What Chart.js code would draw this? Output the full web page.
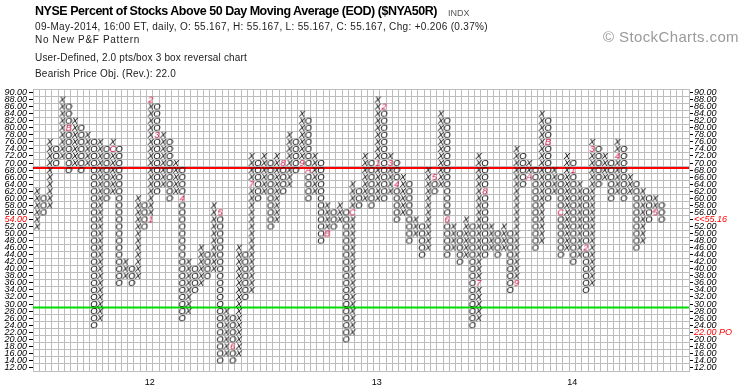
<!DOCTYPE html>
<html>
<head>
<meta charset="utf-8">
<script src="https://cdn.jsdelivr.net/npm/chart.js@4.4.1/dist/chart.umd.min.js"></script>
<style>
  body { margin: 0; background: #fff; font-family: "Liberation Sans", Arial, sans-serif; }
  #wrap { position: relative; width: 745px; height: 391px; overflow: hidden; }
  #chart { position: absolute; left: 0; top: 0; }
  .t { position: absolute; white-space: nowrap; color: #222; font-size: 10px; line-height: 10px; }
</style>
</head>
<body>
<div id="wrap">
  <canvas id="chart" width="745" height="391"></canvas>
  <div class="t" id="title" style="left:35px;top:5px;font-size:12.5px;line-height:12.5px;font-weight:bold;color:#000">NYSE Percent of Stocks Above 50 Day Moving Average (EOD) ($NYA50R)</div>
  <div class="t" id="indx" style="left:448px;top:9px;font-size:9px;line-height:9px;color:#555">INDX</div>
  <div class="t" id="l2" style="left:35px;top:22px">09-May-2014, 16:00 ET, daily, O: 55.167, H: 55.167, L: 55.167, C: 55.167, Chg: +0.206 (0.37%)</div>
  <div class="t" id="l3" style="left:35px;top:35px">No New P&amp;F Pattern</div>
  <div class="t" id="l4" style="left:35px;top:53px">User-Defined, 2.0 pts/box 3 box reversal chart</div>
  <div class="t" id="l5" style="left:35px;top:69px">Bearish Price Obj. (Rev.): 22.0</div>
  <div class="t" id="logo" style="left:603px;top:29px;font-size:15px;line-height:15px;color:#9a9a9a">© StockCharts.com</div>
</div>
<script>
// P&F columns, 2 pts/box, first column is X and they alternate X/O
var boxSize = 2;
var colLow  = [52,56,58,70,72,68,70,68,70,24, 26,60,62,36,38,36,38,52,54,62,
               64,60,62,26,28,34,36,38,40,14, 16,14,16,32,34,60,62,52,54,62,
               64,68,70,60,62,48,50,52,54,20, 22,58,60,58,60,60,62,54,56,48,
               50,44,46,62,64,44,46,42,44,24, 26,44,46,44,46,34,36,64,66,46,
               48,60,62,44,46,42,44,34,36,64, 66,60,62,60,62,46,48,54,56,54];
var colHigh = [62,60,76,74,88,86,82,80,78,76, 76,74,76,74,42,40,60,58,88,86,
               78,76,70,68,42,40,46,44,58,56, 28,26,46,44,72,70,72,70,72,70,
               78,76,84,82,72,70,58,56,58,56, 64,62,72,70,88,86,72,70,66,64,
               54,52,68,66,84,82,52,50,54,52, 72,70,52,50,52,50,74,72,70,68,
               84,82,68,66,72,70,64,62,76,74, 72,70,76,74,66,64,62,60,60,58];
var totalCols = 104;

// month markers: column, box, character
var monthCol  = [5, 12, 18, 18, 19, 23, 29, 31, 34, 39, 42, 43, 46, 50,
                 54, 55, 56, 57, 63, 65, 70, 71, 76, 78, 81, 83, 85, 87, 88, 92, 98];
var monthBox  = [80, 74, 54, 88, 78, 60, 56, 18, 64, 70, 70, 68, 50, 56,
                 70, 86, 70, 64, 66, 54, 36, 62, 36, 66, 76, 56, 68, 46, 74, 72, 56];
var monthMark = ['B','C','1','2','3','4','5','6','7','8','9','A','B','C',
                 '1','2','3','4','5','6','7','8','9','A','B','C','1','2','3','4','5'];

// year labels under the january columns
var yearCol  = [18, 54, 85];
var yearText = ['12', '13', '14'];

var refLevels = [68.6, 29];
var refColors = ['#ff0000', '#00dd00'];

var yMin = 12, yMax = 90;
var lastBox = 54, lastText = '<<55.16';
var objBox = 22, objText = '22.00 PO';

function fit(id, w) {
    var el = document.getElementById(id);
    var w0 = el.getBoundingClientRect().width;
    el.style.letterSpacing = ((w - w0) / el.textContent.length) + 'px';
}
fit('title', 402); fit('l2', 453); fit('l3', 105); fit('l4', 212); fit('l5', 141); fit('logo', 136);

function glyph(ch, color) {
    var g = document.createElement('canvas');
    g.width = 10; g.height = 10;
    var x = g.getContext('2d');
    x.font = 'italic 9.5px "Liberation Sans"';
    x.fillStyle = color;
    x.textAlign = 'center';
    x.textBaseline = 'middle';
    x.fillText(ch, 6, 5.5);
    return g;
}
var gX = glyph('X', '#000'), gO = glyph('O', '#000');
var red = '#cc1040';
var marks = {};
for (var i = 0; i < monthCol.length; i++) {
    marks[monthCol[i] + ':' + monthBox[i]] = glyph(monthMark[i], red);
}

var pts = [];
for (var c = 0; c < colLow.length; c++) {
    for (var v = colLow[c]; v <= colHigh[c]; v += boxSize) pts.push({x: c, y: v});
}

var lineSets = refLevels.map(function (lv, k) {
    return {
        type: 'line', data: [{x: -0.5, y: lv}, {x: totalCols - 0.5, y: lv}],
        borderColor: refColors[k], borderWidth: 2, pointRadius: 0, order: 2
    };
});

var grey = '#bdbdbd';
function yTicks(scale) {
    var t = [];
    for (var v = yMin - 1; v <= yMax + 1; v++) t.push({value: v});
    scale.ticks = t;
}
function yLabel(v) { return v % 2 === 0 ? v.toFixed(2) : ''; }

var ctx = document.getElementById('chart').getContext('2d');
new Chart(ctx, {
    type: 'scatter',
    data: {
        datasets: [{
            data: pts, order: 1, pointRadius: 4, pointHoverRadius: 4,
            pointStyle: function (c) {
                var p = c.raw;
                if (!p) return gX;
                var m = marks[p.x + ':' + p.y];
                if (m) return m;
                return p.x % 2 === 0 ? gX : gO;
            }
        }].concat(lineSets)
    },
    options: {
        responsive: false, animation: false,
        layout: {padding: {top: 89, left: 0, right: 0, bottom: 0}},
        plugins: {legend: {display: false}, tooltip: {enabled: false}},
        scales: {
            x: {
                type: 'linear', min: -0.5, max: totalCols - 0.5, position: 'bottom',
                afterBuildTicks: function (s) {
                    var t = [];
                    for (var i = 0; i <= totalCols; i++) t.push({value: i - 0.5});
                    s.ticks = t;
                },
                ticks: {display: false},
                grid: {color: grey, drawTicks: false},
                border: {color: grey},
                afterFit: function (s) { s.height = 0; }
            },
            xy: {
                type: 'linear', min: -0.5, max: totalCols - 0.5, position: 'bottom',
                afterBuildTicks: function (s) { s.ticks = yearCol.map(function (c) { return {value: c}; }); },
                ticks: {
                    autoSkip: false, maxRotation: 0, padding: -2, color: '#000',
                    font: {size: 9, family: 'Liberation Sans'},
                    callback: function (v) { return yearText[yearCol.indexOf(v)]; }
                },
                grid: {display: false}, border: {display: false},
                afterFit: function (s) { s.height = 20; }
            },
            y: {
                type: 'linear', min: yMin - 1, max: yMax + 1, position: 'left',
                afterBuildTicks: yTicks,
                ticks: {
                    autoSkip: false, padding: 2,
                    font: {size: 9, style: 'italic', family: 'Liberation Sans'},
                    color: function (c) { return c.tick.value === lastBox ? '#ff0000' : '#000'; },
                    callback: yLabel
                },
                grid: {
                    color: function (c) { return c.tick.value % 2 === 0 ? 'rgba(0,0,0,0)' : grey; },
                    tickColor: function (c) { return c.tick.value % 2 === 0 ? '#000' : 'rgba(0,0,0,0)'; },
                    tickLength: 4
                },
                border: {color: grey},
                afterFit: function (s) { s.width = 33; }
            },
            y2: {
                type: 'linear', min: yMin - 1, max: yMax + 1, position: 'right',
                afterBuildTicks: yTicks,
                ticks: {
                    autoSkip: false, padding: 1,
                    font: {size: 9, style: 'italic', family: 'Liberation Sans'},
                    color: function (c) {
                        var v = c.tick.value;
                        return (v === lastBox || v === objBox) ? '#ff0000' : '#000';
                    },
                    callback: function (v) {
                        if (v === lastBox) return lastText;
                        if (v === objBox) return objText;
                        return yLabel(v);
                    }
                },
                grid: {
                    drawOnChartArea: false,
                    tickColor: function (c) { return c.tick.value % 2 === 0 ? '#000' : 'rgba(0,0,0,0)'; },
                    tickLength: 4
                },
                border: {color: grey},
                afterFit: function (s) { s.width = 56; }
            }
        }
    }
});
</script>
</body>
</html>
